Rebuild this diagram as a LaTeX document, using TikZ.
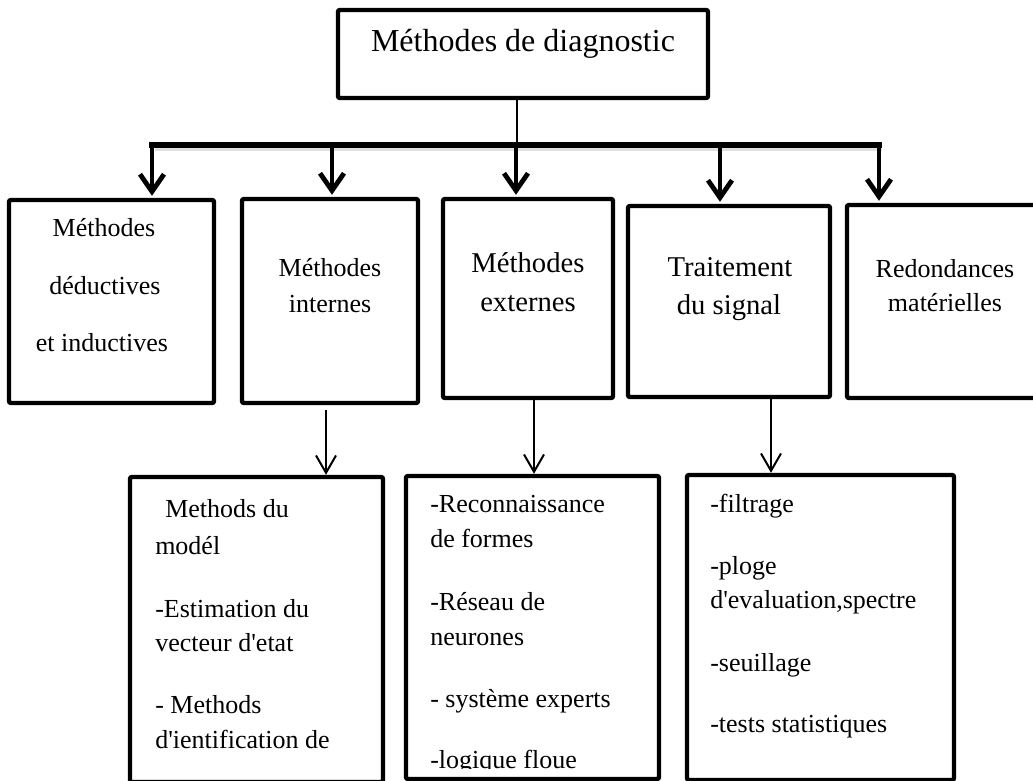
\documentclass[tikz,border=0pt]{standalone}
\usepackage{fontspec}
\setmainfont{Liberation Serif}[Ligatures=TeXOff]
\usetikzlibrary{arrows.meta,fit,calc}
\begin{document}
\begin{tikzpicture}[x=0.75pt,y=-0.75pt,
  box/.style={draw, line width=3.3pt, rounded corners=1.5pt, inner sep=0pt, fill=white},
  thickarrow/.style={line width=3.6pt, -{Straight Barb[length=13pt,width=18pt,line width=3.6pt]}},
  thinarrow/.style={line width=1.5pt, -{Straight Barb[length=13pt,width=15pt,line width=1.5pt]}},
  tS/.style={font=\fontsize{19.5pt}{22pt}\selectfont, inner sep=0pt, anchor=base},
  tM/.style={font=\fontsize{21.5pt}{24pt}\selectfont, inner sep=0pt, anchor=base},
  tL/.style={font=\fontsize{24pt}{27pt}\selectfont, inner sep=0pt, anchor=base},
  tW/.style={font=\fontsize{19.5pt}{22pt}\selectfont, inner sep=0pt, anchor=base west}]
\useasboundingbox (0,0) rectangle (1033,781);
\clip (0,0) rectangle (1033,781);

% main box
\node[box, fit={(338,10) (708,98)}] (top) {};
\node[tL] (topt) at (523,52) {Méthodes de diagnostic};

% second row of boxes
\node[box, fit={(9,200) (214,403)}] (b1) {};
\node[box, fit={(242,199) (418,403)}] (b2) {};
\node[box, fit={(443,199) (613,398)}] (b3) {};
\node[box, fit={(628,206) (830,397)}] (b4) {};
\node[box, fit={(847,205) (1045,398)}] (b5) {};

% third row of boxes (running down to the lower edge)
\node[box, fit={(130,477) (383,782)}] (b6) {};
\node[box, fit={(406,476) (659,779)}] (b7) {};
\node[box, fit={(687,475) (954,780)}] (b8) {};

% distribution bar
\coordinate (bus) at (517,145);
\coordinate (j1) at (152,145);
\coordinate (j2) at (332,145);
\coordinate (j3) at (516,145);
\coordinate (j4) at (720,145);
\coordinate (j5) at (879,145);
\draw[gray!25, line width=3pt] ($(j1)+(3,4.5)$) -- ($(j5)+(3,4.5)$);
\draw[line width=4.5pt, line cap=rect] (j1) -- (j5);
\draw[line width=1.1pt] (bus |- top.south) -- (bus);

\draw[thickarrow] (j1) -- ($(j1 |- b1.north)+(0,-2)$);
\draw[thickarrow] (j2) -- ($(j2 |- b2.north)+(0,-2)$);
\draw[thickarrow] (j3) -- ($(j3 |- b3.north)+(0,-2)$);
\draw[thickarrow] (j4) -- ($(j4 |- b4.north)+(0,-2)$);
\draw[thickarrow] (j5) -- ($(j5 |- b5.north)+(0,-2)$);

% links to the detail boxes
\coordinate (s2) at (326,410);
\coordinate (s3) at (534,0);
\coordinate (s4) at (771,0);
\draw[thinarrow] (s2) -- (s2 |- b6.north);
\draw[thinarrow] (s3 |- b3.south) -- (s3 |- b7.north);
\draw[thinarrow] (s4 |- b4.south) -- (s4 |- b8.north);

% labels of the second row
\node[tS] (b1a) at (104,237) {Méthodes};
\node[tS] (b1b) at (105,295) {déductives};
\node[tS] (b1c) at (102,352) {et inductives};
\node[tS] (b2a) at (330,277) {Méthodes};
\node[tS] (b2b) at (330,313) {internes};
\node[tM] (b3a) at (528,273) {Méthodes};
\node[tM] (b3b) at (528,312) {externes};
\node[tM] (b4a) at (730,277) {Traitement};
\node[tM] (b4b) at (729,315) {du signal};
\node[tS] (b5a) at (945,278) {Redondances};
\node[tS] (b5b) at (945,312) {matérielles};

% details: model-based methods
\node[tW] (b6a) at (165,517) {Methods du};
\node[tW] (b6b) at (155,554) {modél};
\node[tW] (b6c) at (155,617) {-Estimation du};
\node[tW] (b6d) at (155,651) {vecteur d'etat};
\node[tW] (b6e) at (155,713) {- Methods};
\node[tW] (b6f) at (155,748) {d'ientification de};

% details: external methods
\node[tW] (b7a) at (430,512) {-Reconnaissance};
\node[tW] (b7b) at (430,547) {de formes};
\node[tW] (b7c) at (430,610) {-Réseau de};
\node[tW] (b7d) at (430,645) {neurones};
\node[tW] (b7e) at (430,707) {- système experts};
\begin{scope}
  \clip (410,720) rectangle (655,768);
  \node[tW] (b7f) at (430,768) {-logique floue};
\end{scope}

% details: signal processing
\node[tW] (b8a) at (710,512) {-filtrage};
\node[tW] (b8b) at (710,574) {-ploge};
\node[tW] (b8c) at (710,608) {d'evaluation,spectre};
\node[tW] (b8d) at (710,671) {-seuillage};
\node[tW] (b8e) at (710,732) {-tests statistiques};
\end{tikzpicture}
\end{document}
